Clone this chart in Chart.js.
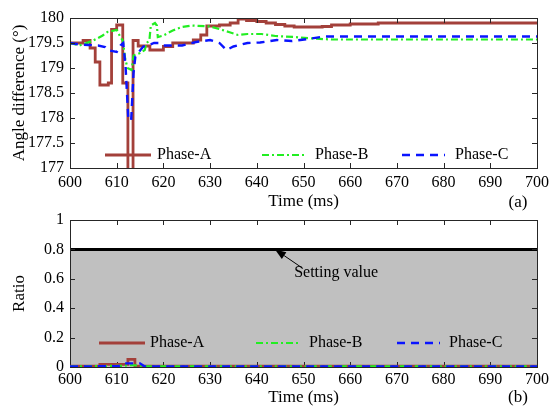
<!DOCTYPE html>
<html><head><meta charset="utf-8">
<script src="https://cdn.jsdelivr.net/npm/chart.js@4.4.1/dist/chart.umd.min.js"></script>
<style>
html,body{margin:0;padding:0;background:#fff;}
#wrap{position:relative;width:554px;height:406px;}
canvas{position:absolute;left:0;}
</style></head><body>
<div id="wrap">
<canvas id="c1" width="554" height="212" style="top:0"></canvas>
<canvas id="c2" width="554" height="202" style="top:204px"></canvas>
</div>
<script>
// ---------- data ----------
const xTicks = [600, 610, 620, 630, 640, 650, 660, 670, 680, 690, 700];
const angleTicks = [177, 177.5, 178, 178.5, 179, 179.5, 180];
const ratioTicks = [0, 0.2, 0.4, 0.6, 0.8, 1];
const seriesNames = ['Phase-A', 'Phase-B', 'Phase-C'];

const timeA = [600, 602.8, 604.3, 605.4, 606.4, 608.2, 608.9, 610.0, 611.3, 612.4, 613.5, 614.6, 617.1, 620, 622, 626.4, 628, 629.3, 632, 634.3, 636, 637.8, 640, 642, 644, 646, 648, 654, 656, 660, 666, 700];
const angleA = [179.5, 179.55, 179.4, 179.12, 178.66, 178.7, 179.77, 179.86, 178.7, 176.9, 179.55, 179.44, 179.36, 179.43, 179.5, 179.56, 179.66, 179.84, 179.86, 179.9, 179.98, 179.95, 179.93, 179.9, 179.87, 179.84, 179.82, 179.83, 179.86, 179.88, 179.9, 179.9];

const timeB = [600, 602, 603, 605, 607, 608, 610, 610.8, 611.3, 611.8, 612.3, 613.2, 613.6, 615, 616, 616.4, 617, 617.3, 618.2, 618.6, 618.8, 620, 622, 624, 626, 630, 632, 634, 636, 638, 641, 644, 648, 652, 656, 700];
const angleB = [179.5, 179.45, 179.48, 179.55, 179.65, 179.72, 179.76, 179.62, 179.55, 179.2, 179.0, 178.96, 179.25, 179.3, 179.36, 179.5, 179.55, 179.85, 179.9, 179.85, 179.62, 179.65, 179.75, 179.82, 179.85, 179.83, 179.78, 179.72, 179.66, 179.68, 179.68, 179.64, 179.62, 179.59, 179.57, 179.57];

const timeC = [600, 602, 604, 606, 607.5, 608, 610, 610.8, 611.4, 611.9, 612.5, 613.1, 613.6, 614, 615, 615.7, 617, 618, 619, 620, 624, 627, 630, 632, 633.5, 635, 638, 640.7, 644.3, 647.5, 651, 654.3, 700];
const angleC = [179.5, 179.47, 179.46, 179.45, 179.42, 179.36, 179.32, 179.45, 179.5, 179.03, 177.96, 177.96, 178.9, 179.23, 179.35, 179.43, 179.46, 179.5, 179.5, 179.45, 179.45, 179.52, 179.56, 179.5, 179.36, 179.43, 179.5, 179.51, 179.56, 179.54, 179.58, 179.63, 179.63];

const rTimeA = [600, 606.4, 611.4, 612.4, 613.9, 700];
const ratioA = [0.005, 0.018, 0.018, 0.052, 0.005, 0.005];
const rTimeB = [600, 611.5, 612.5, 614, 615, 700];
const ratioB = [0.004, 0.008, 0.012, 0.012, 0.004, 0.004];
const rTimeC = [600, 610.5, 611.4, 615, 616, 700];
const ratioC = [0.003, 0.006, 0.025, 0.025, 0.003, 0.003];

const settingTime = [600, 700];
const settingValue = [0.8, 0.8];
const settingLabel = 'Setting value';
const arrowTip = [643.9, 0.8];
const arrowTail = [649.9, 0.67];
const settingTextPos = [648.0, 0.64];

// ---------- helpers ----------
const FONT = "'Liberation Serif','Times New Roman',serif";
const colA = '#a3403a', colB = '#22ee22', colC = '#0a14ff';
function pts(xs, ys) { return xs.map((x, i) => ({ x: x, y: ys[i] })); }

function drawFrame(chart, opts) {
  const ctx = chart.ctx, a = chart.chartArea, xs = chart.scales.x, ys = chart.scales.y;
  ctx.save();
  if (opts.annot) {
    const an = opts.annot;
    const tx = xs.getPixelForValue(an.tip[0]), ty = ys.getPixelForValue(an.tip[1]);
    const sx = xs.getPixelForValue(an.tail[0]), sy = ys.getPixelForValue(an.tail[1]);
    ctx.strokeStyle = '#000'; ctx.fillStyle = '#000'; ctx.lineWidth = 1;
    const ang = Math.atan2(ty - sy, tx - sx);
    const L = 11, W = 4;
    const bx = tx - L * Math.cos(ang), by = ty - L * Math.sin(ang);
    ctx.beginPath(); ctx.moveTo(sx, sy); ctx.lineTo(bx, by); ctx.stroke();
    ctx.beginPath(); ctx.moveTo(tx, ty);
    ctx.lineTo(bx + W * Math.sin(ang), by - W * Math.cos(ang));
    ctx.lineTo(bx - W * Math.sin(ang), by + W * Math.cos(ang));
    ctx.closePath(); ctx.fill();
    ctx.font = '16px ' + FONT; ctx.textAlign = 'left'; ctx.textBaseline = 'middle';
    ctx.fillText(an.text, xs.getPixelForValue(an.pos[0]), ys.getPixelForValue(an.pos[1]));
  }
  ctx.font = '16px ' + FONT; ctx.textBaseline = 'middle'; ctx.textAlign = 'left';
  (opts.legend || []).forEach(it => {
    const ds = chart.data.datasets[it.ds];
    ctx.save();
    ctx.strokeStyle = ds.borderColor; ctx.lineWidth = ds.borderWidth;
    ctx.setLineDash(ds.borderDash || []);
    ctx.beginPath(); ctx.moveTo(it.x1, opts.legendY); ctx.lineTo(it.x2, opts.legendY); ctx.stroke();
    ctx.restore();
    ctx.fillStyle = '#000';
    ctx.fillText(ds.label, it.tx, opts.legendY);
  });
  ctx.strokeStyle = '#262626'; ctx.lineWidth = 1; ctx.setLineDash([]);
  ctx.beginPath();
  xs.ticks.forEach(t => {
    const px = Math.round(xs.getPixelForValue(t.value)) + 0.5;
    ctx.moveTo(px, a.bottom); ctx.lineTo(px, a.bottom - 5);
    ctx.moveTo(px, a.top); ctx.lineTo(px, a.top + 5);
  });
  ys.ticks.forEach(t => {
    const py = Math.round(ys.getPixelForValue(t.value)) + 0.5;
    ctx.moveTo(a.left, py); ctx.lineTo(a.left + 5, py);
    ctx.moveTo(a.right, py); ctx.lineTo(a.right - 5, py);
  });
  ctx.stroke();
  ctx.strokeRect(Math.round(a.left) + 0.5, Math.round(a.top) + 0.5, Math.round(a.right - a.left), Math.round(a.bottom - a.top));
  ctx.fillStyle = '#000'; ctx.font = '17px ' + FONT; ctx.textAlign = 'center'; ctx.textBaseline = 'middle';
  ctx.fillText(opts.label, opts.labelX, opts.labelY);
  ctx.restore();
}

const framePlugin = {
  id: 'frame',
  afterDatasetDraw(chart, args, opts) {
    if (opts.afterIndex === args.index) drawFrame(chart, opts);
  },
  afterDatasetsDraw(chart, args, opts) {
    if (opts.afterIndex === undefined || opts.afterIndex === null) drawFrame(chart, opts);
  }
};

const fmt = v => String(Math.round(v * 100) / 100);

function makeOptions(yTicks, xHeight, padTop, tickPadX, titlePadB, yTitle, frame) {
  return {
    responsive: false, animation: false, devicePixelRatio: 1,
    layout: { padding: { top: padTop, right: 17, left: 0, bottom: 0 } },
    plugins: { legend: { display: false }, tooltip: { enabled: false }, frame: frame },
    elements: { point: { radius: 0 } },
    scales: {
      x: {
        type: 'linear', min: xTicks[0], max: xTicks[xTicks.length - 1],
        afterFit: s => { s.height = xHeight; },
        afterBuildTicks: s => { s.ticks = xTicks.map(v => ({ value: v })); },
        grid: { display: false, drawTicks: false }, border: { display: false },
        ticks: { color: '#000', padding: tickPadX, maxRotation: 0, autoSkip: false, callback: fmt, font: { family: FONT, size: 16 } },
        title: { display: true, text: 'Time (ms)', color: '#000', padding: { top: 0, bottom: titlePadB }, font: { family: FONT, size: 17 } }
      },
      y: {
        type: 'linear', min: yTicks[0], max: yTicks[yTicks.length - 1],
        afterFit: s => { s.width = 70; },
        afterBuildTicks: s => { s.ticks = yTicks.map(v => ({ value: v })); },
        grid: { display: false, drawTicks: false }, border: { display: false },
        ticks: { color: '#000', padding: 6, autoSkip: false, callback: fmt, font: { family: FONT, size: 16 } },
        title: { display: true, text: yTitle, color: '#000', padding: { top: 9, bottom: 0 }, font: { family: FONT, size: 17 } }
      }
    }
  };
}

const lineDs = (label, data, color, width, dash, stepped, order) => ({
  label: label, data: data, borderColor: color, borderWidth: width, borderDash: dash,
  stepped: stepped, fill: false, tension: 0, pointRadius: 0, order: order
});

new Chart(document.getElementById('c1'), {
  type: 'line',
  data: {
    datasets: [
      lineDs(seriesNames[0], pts(timeA, angleA), colA, 2.8, [], true, 2),
      lineDs(seriesNames[1], pts(timeB, angleB), colB, 2.2, [7, 3, 2, 3], false, 1),
      lineDs(seriesNames[2], pts(timeC, angleC), colC, 2.4, [8, 6], false, 0)
    ]
  },
  options: makeOptions(angleTicks, 44, 18, 5, 0, 'Angle difference (°)', {
    legendY: 155,
    legend: [{ ds: 0, x1: 105, x2: 151, tx: 157 }, { ds: 1, x1: 262, x2: 305, tx: 315 }, { ds: 2, x1: 402, x2: 445, tx: 455 }],
    label: '(a)', labelX: 518, labelY: 203
  }),
  plugins: [framePlugin]
});

new Chart(document.getElementById('c2'), {
  type: 'line',
  data: {
    datasets: [
      lineDs(seriesNames[0], pts(rTimeA, ratioA), colA, 2.8, [], true, 2),
      lineDs(seriesNames[1], pts(rTimeB, ratioB), colB, 2.2, [7, 3, 2, 3], false, 1),
      lineDs(seriesNames[2], pts(rTimeC, ratioC), colC, 2.4, [8, 6], false, 0),
      { label: settingLabel, data: pts(settingTime, settingValue), borderColor: '#000', borderWidth: 3,
        backgroundColor: '#c0c0c0', fill: 'origin', pointRadius: 0, order: 10 }
    ]
  },
  options: makeOptions(ratioTicks, 39, 16, 3, -2, 'Ratio', {
    afterIndex: 3,
    legendY: 139,
    legend: [{ ds: 0, x1: 99, x2: 145, tx: 150 }, { ds: 1, x1: 256, x2: 300, tx: 309 }, { ds: 2, x1: 397, x2: 440, tx: 449 }],
    label: '(b)', labelX: 518, labelY: 194,
    annot: { tip: arrowTip, tail: arrowTail, pos: settingTextPos, text: settingLabel }
  }),
  plugins: [framePlugin]
});
</script>
</body></html>
